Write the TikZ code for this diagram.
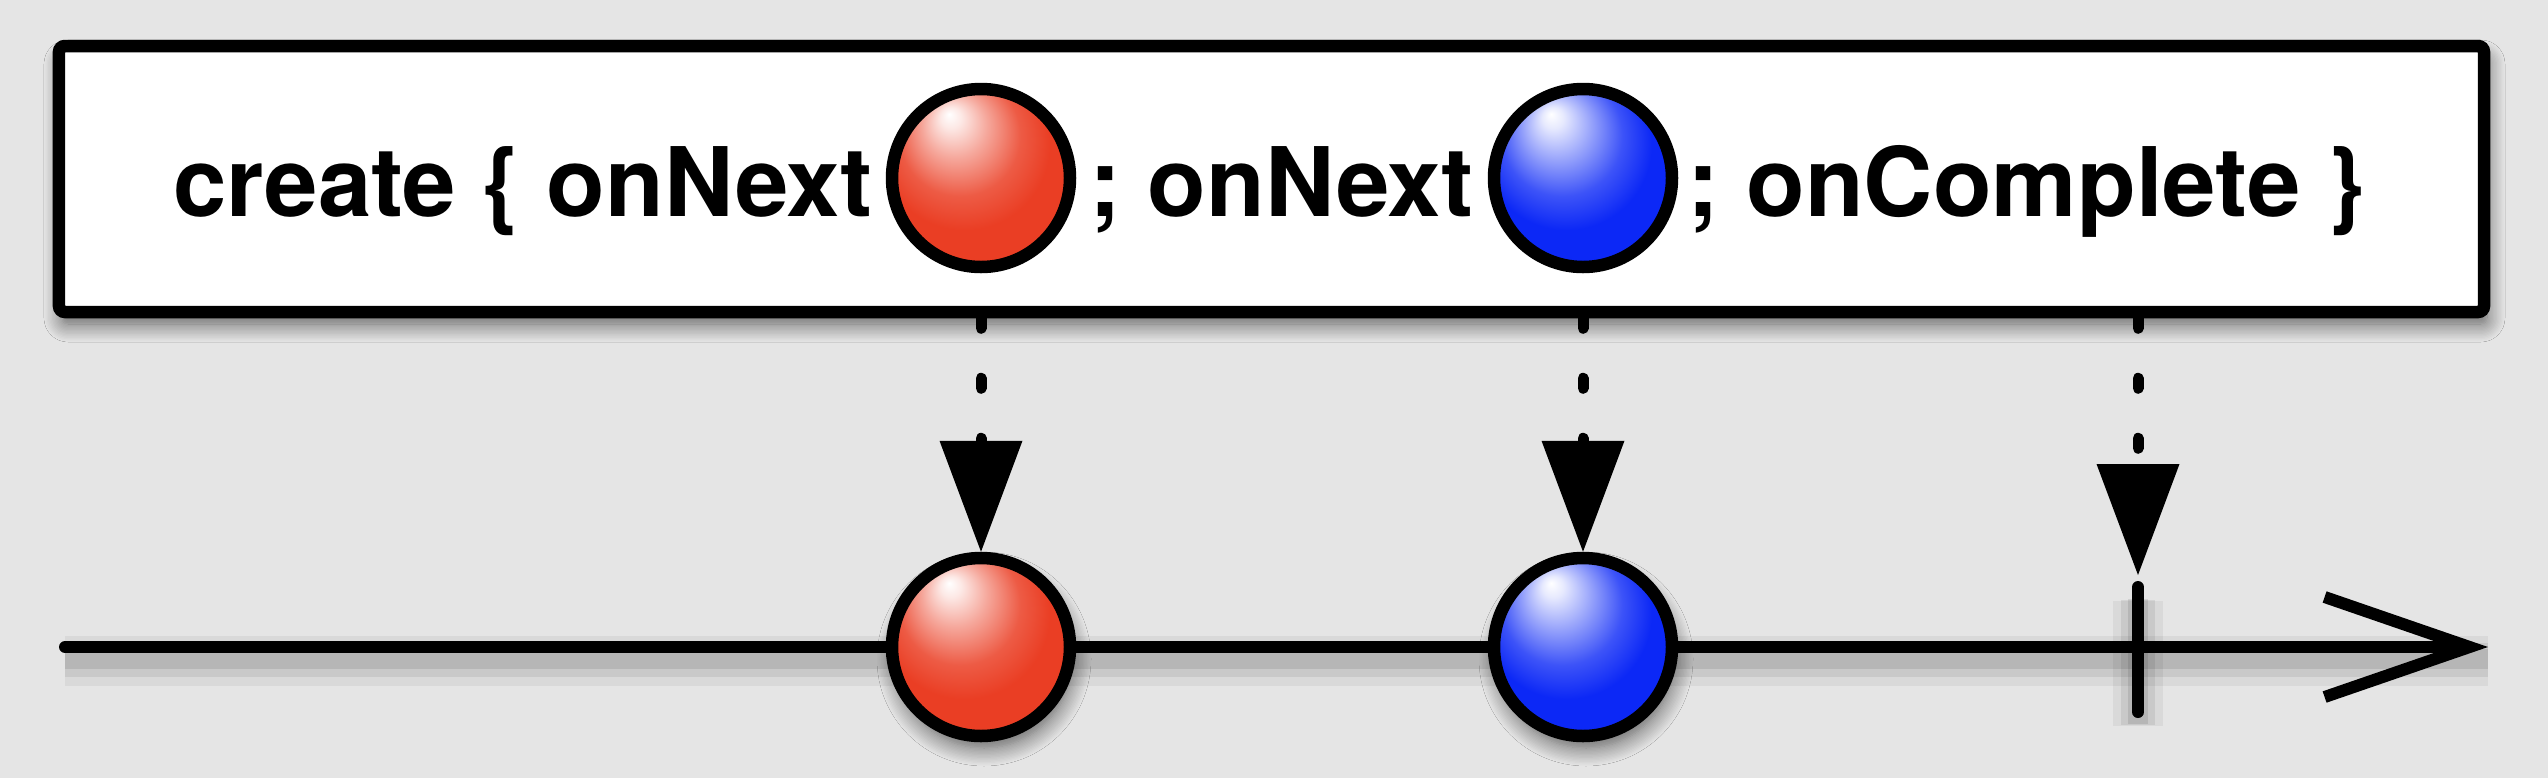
\documentclass[tikz,border=0pt]{standalone}
\usepackage{fontspec}
\setsansfont{TeX Gyre Heros}
\usepackage{tikz}
\usetikzlibrary{positioning, arrows.meta, calc, shadows.blur}

\definecolor{canvas}{RGB}{229,229,229}
\definecolor{redball}{RGB}{234,62,36}
\definecolor{blueball}{RGB}{12,40,246}

% glossy marbles, light from the upper left
\pgfdeclareradialshading{redsphere}{\pgfpoint{-9bp}{18bp}}{%
  color(0bp)=(white); color(3bp)=(redball!12!white); color(9bp)=(redball!45!white);
  color(17bp)=(redball!85!white); color(24bp)=(redball); color(37bp)=(redball);
  color(43bp)=(redball!80!black); color(50bp)=(redball!50!black)}
\pgfdeclareradialshading{bluesphere}{\pgfpoint{-9bp}{18bp}}{%
  color(0bp)=(white); color(3bp)=(blueball!10!white); color(9bp)=(blueball!40!white);
  color(17bp)=(blueball!80!white); color(24bp)=(blueball); color(37bp)=(blueball);
  color(43bp)=(blueball!75!black); color(50bp)=(blueball!45!black)}

\begin{document}
\begin{tikzpicture}[
  softshadow/.style={blur shadow={shadow xshift=0.03cm, shadow yshift=-0.12cm,
      shadow blur radius=0.18cm, shadow blur steps=14, shadow opacity=60}},
  lineshadow/.style={
    preaction={arrows=-, draw=black, opacity=0.05, line width=0.5cm, transform canvas={yshift=-0.14cm}},
    preaction={arrows=-, draw=black, opacity=0.07, line width=0.34cm, transform canvas={yshift=-0.13cm}},
    preaction={arrows=-, draw=black, opacity=0.09, line width=0.2cm, transform canvas={yshift=-0.12cm}}},
  createbox/.style={draw=black, fill=white, line width=0.125cm, rounded corners=0.06cm,
      minimum width=24.25cm, minimum height=2.66cm, inner sep=0pt, softshadow},
  marble/.style={circle, draw=black, line width=0.125cm, minimum size=1.78cm, inner sep=0pt},
  evtext/.style={font=\sffamily\bfseries\fontsize{27.3}{30}\selectfont, inner sep=0pt,
      text height=0.76cm, text depth=0pt},
  emit/.style={line width=0.11cm, line cap=round, dash pattern=on 0.1cm off 0.5cm,
      -{Triangle[length=1.11cm, width=0.83cm, line width=0pt]}},
  axis/.style={line width=0.12cm, line cap=round, lineshadow,
      -{Straight Barb[length=1.45cm, width=1.0cm]}},
  tickline/.style={line width=0.12cm, line cap=round, lineshadow},
]

% background and frame
\fill[canvas] (0,0) rectangle (25.48,7.78);
\useasboundingbox (0,0) rectangle (25.48,7.78);

% === create box ===
\node[createbox] (create) at (12.715,5.99) {};

\node[marble, shading=redsphere] (redtop) at (9.81,6.00) {};
\node[marble, shading=bluesphere] (bluetop) at (15.83,6.00) {};

\node[evtext, left=0.13cm of redtop] (onnext1) {create \{ onNext};
\node[evtext, left=0.14cm of bluetop] (onnext2) {; onNext};
\node[evtext, right=0.09cm of bluetop] (oncomplete) {; onComplete \}};

% === timeline ===
\coordinate (tstart) at (0.65,1.31);
\coordinate (tend) at (24.88,1.31);
\draw[axis] (tstart) -- (tend);

\node[marble, shading=redsphere, softshadow] (redmark) at (9.81,1.31) {};
\node[marble, shading=bluesphere, softshadow] (bluemark) at (15.83,1.31) {};

% completion tick
\coordinate (donetop) at (21.38,1.91);
\coordinate (donebot) at (21.38,0.66);
\draw[tickline] (donetop) -- (donebot);

% === emissions ===
\draw[emit] (redtop |- create.south) -- (redmark);
\draw[emit] (bluetop |- create.south) -- (bluemark);
\draw[emit, shorten >=0.12cm] (donetop |- create.south) -- (donetop);

\end{tikzpicture}
\end{document}
